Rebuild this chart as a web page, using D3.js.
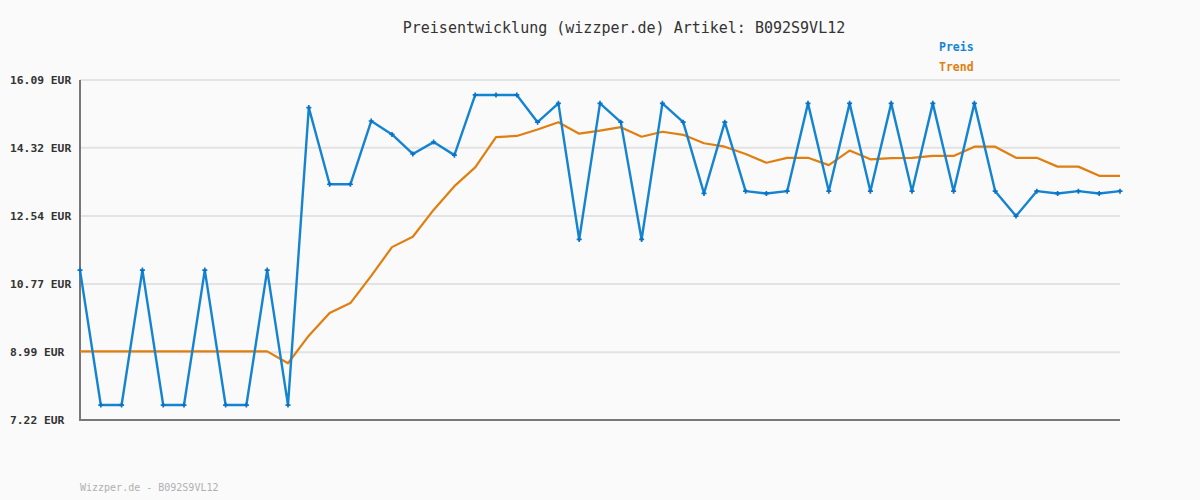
<!DOCTYPE html>
<html>
<head>
<meta charset="utf-8">
<script src="https://cdn.jsdelivr.net/npm/d3@7"></script>
<style>
  html, body { margin: 0; padding: 0; background: #fafafa; }
  svg { display: block; }
</style>
</head>
<body>
<svg id="chart" width="1200" height="500"></svg>
<script>
const titleText = "Preisentwicklung (wizzper.de) Artikel: B092S9VL12";
const footerText = "Wizzper.de - B092S9VL12";
const seriesNames = ["Preis", "Trend"];
const tickValues = [7.22, 8.99, 10.77, 12.54, 14.32, 16.09];
const tickLabels = ["7.22 EUR", "8.99 EUR", "10.77 EUR", "12.54 EUR", "14.32 EUR", "16.09 EUR"];

const preis = [
  11.13, 7.61, 7.61, 11.13, 7.61, 7.61, 11.13, 7.61, 7.61, 11.13,
  7.61, 15.37, 13.37, 13.37, 15.02, 14.67, 14.16, 14.47, 14.13, 15.70,
  15.70, 15.70, 14.99, 15.48, 11.93, 15.48, 14.99, 11.93, 15.48, 14.99,
  13.13, 14.99, 13.19, 13.13, 13.19, 15.48, 13.19, 15.48, 13.19, 15.48,
  13.19, 15.48, 13.19, 15.48, 13.19, 12.54, 13.19, 13.13, 13.19, 13.13,
  13.19
];
const trend = [
  9.01, 9.01, 9.01, 9.01, 9.01, 9.01, 9.01, 9.01, 9.01, 9.01,
  8.70, 9.42, 10.01, 10.27, 10.98, 11.73, 12.00, 12.70, 13.32, 13.81,
  14.60, 14.63, 14.80, 14.99, 14.69, 14.77, 14.86, 14.61, 14.74, 14.66,
  14.44, 14.35, 14.16, 13.93, 14.06, 14.06, 13.87, 14.25, 14.02, 14.05,
  14.06, 14.11, 14.11, 14.35, 14.35, 14.06, 14.06, 13.83, 13.83, 13.59,
  13.59
];

const colors = { preis: "#1484d2", trend: "#e07f10" };
const svg = d3.select("#chart");
const mLeft = 80, mRight = 1120, mTop = 80, mBottom = 420;
const mono = "'DejaVu Sans Mono', 'Liberation Mono', monospace";

const x = d3.scaleLinear().domain([0, preis.length - 1]).range([mLeft, mRight]);
const y = d3.scaleLinear().domain([7.22, 16.09]).range([mBottom, mTop]);

// gridlines
svg.append("g").selectAll("line")
  .data(tickValues.slice(1))
  .join("line")
  .attr("x1", mLeft).attr("x2", mRight)
  .attr("y1", d => y(d)).attr("y2", d => y(d))
  .attr("stroke", "#e3e3e3").attr("stroke-width", 2);

// y axis labels
const yAxis = d3.axisLeft(y).tickValues(tickValues)
  .tickFormat((d, i) => tickLabels[i]).tickSize(0);
const gy = svg.append("g").attr("transform", `translate(${mLeft},0)`).call(yAxis);
gy.select(".domain").remove();
gy.selectAll("text")
  .attr("x", -70).attr("text-anchor", "start").attr("dy", "0.32em")
  .attr("font-family", mono).attr("font-size", "11.3px").attr("font-weight", "bold")
  .attr("fill", "#333");

// axes lines
svg.append("line").attr("x1", mLeft).attr("x2", mLeft).attr("y1", mTop).attr("y2", mBottom)
  .attr("stroke", "#777").attr("stroke-width", 2);
svg.append("line").attr("x1", mLeft - 1).attr("x2", mRight).attr("y1", mBottom).attr("y2", mBottom)
  .attr("stroke", "#777").attr("stroke-width", 2);

const line = d3.line().x((d, i) => x(i)).y(d => y(d));

svg.append("path").datum(trend).attr("d", line)
  .attr("fill", "none").attr("stroke", colors.trend).attr("stroke-width", 2.2)
  .attr("stroke-linejoin", "round");

svg.append("path").datum(preis).attr("d", line)
  .attr("fill", "none").attr("stroke", colors.preis).attr("stroke-width", 2.4)
  .attr("stroke-linejoin", "round");

svg.append("g").selectAll("path")
  .data(preis)
  .join("path")
  .attr("d", d3.symbol(d3.symbolCross, 14)())
  .attr("transform", (d, i) => `translate(${x(i)},${y(d)})`)
  .attr("fill", "#0a72c4");

// title
svg.append("text").attr("x", 624).attr("y", 33).attr("text-anchor", "middle")
  .attr("font-family", mono).attr("font-size", "15px").attr("fill", "#333")
  .text(titleText);

// legend
svg.append("text").attr("x", 939).attr("y", 51)
  .attr("font-family", mono).attr("font-size", "11.5px").attr("font-weight", "bold")
  .attr("fill", colors.preis).text(seriesNames[0]);
svg.append("text").attr("x", 939).attr("y", 71)
  .attr("font-family", mono).attr("font-size", "11.5px").attr("font-weight", "bold")
  .attr("fill", colors.trend).text(seriesNames[1]);

// footer
svg.append("text").attr("x", 80).attr("y", 491)
  .attr("font-family", mono).attr("font-size", "10px").attr("fill", "#b0b0b0")
  .text(footerText);
</script>
</body>
</html>
